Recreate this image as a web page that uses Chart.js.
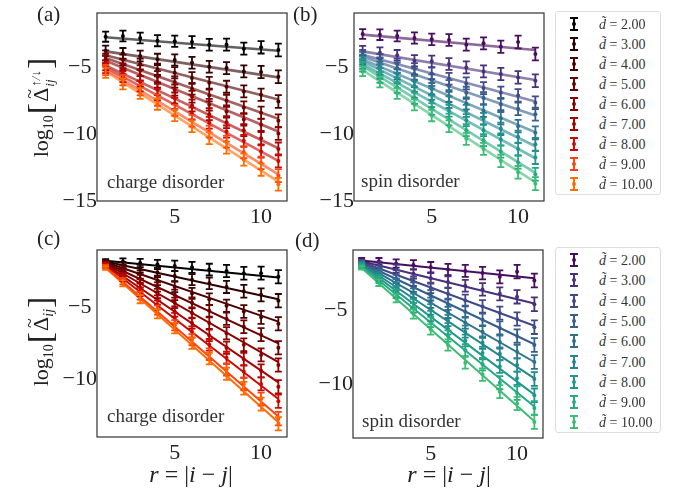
<!DOCTYPE html>
<html>
<head>
<meta charset="utf-8">
<script src="https://cdn.jsdelivr.net/npm/chart.js@4.4.1/dist/chart.umd.min.js"></script>
<style>
  body { margin: 0; background: #fff; width: 681px; height: 491px; position: relative; overflow: hidden;
         font-family: "Liberation Serif", "DejaVu Serif", serif; color: #222; }
  canvas { position: absolute; }
  .txt { position: absolute; white-space: nowrap; line-height: 1; }
  .tag { font-size: 21px; }
  .note { font-size: 19px; color: #333; }
  .xlab { font-size: 24px; transform: translateX(-50%); }
  .ylab { font-size: 22px; transform: translate(-50%, -50%) rotate(-90deg); }
  .ylab sub { font-size: 14px; vertical-align: -5px; }
  .ylab .br { font-size: 34px; font-weight: 300; vertical-align: -3px; margin: 0 1px; }
  .acc { position: relative; display: inline-block; }
  .acc b { position: absolute; left: 3px; top: -9px; font-weight: normal; font-size: 18px; }
  .ss { display: inline-block; vertical-align: -6px; font-size: 13px; line-height: 1.05; font-style: italic; margin-left: 1px; }
  .ss span { display: block; }
  .legend { position: absolute; border: 1px solid #ddd; border-radius: 3px; background: #fff; }
  .row { position: absolute; left: 0; height: 20px; width: 100%; font-size: 14px; color: #333; }
  .row span.t { position: absolute; left: 43px; top: 3px; }
  .eb { position: absolute; left: 14px; top: 3px; width: 8px; height: 14px; }
  .eb i { position: absolute; background: currentColor; }
</style>
</head>
<body>
<canvas id="pa"></canvas>
<canvas id="pb"></canvas>
<canvas id="pc"></canvas>
<canvas id="pd"></canvas>

<div class="txt tag" style="left:37px;top:4px">(a)</div>
<div class="txt tag" style="left:293px;top:4px">(b)</div>
<div class="txt tag" style="left:37px;top:228px">(c)</div>
<div class="txt tag" style="left:295px;top:230px">(d)</div>

<div class="txt note" style="left:107px;top:172px">charge disorder</div>
<div class="txt note" style="left:361px;top:171px">spin disorder</div>
<div class="txt note" style="left:107px;top:406px">charge disorder</div>
<div class="txt note" style="left:362px;top:411px">spin disorder</div>

<div class="txt ylab" style="left:40px;top:107px">log<sub>10</sub><span class="br">[</span><span class="acc">Δ<b>~</b></span><span class="ss"><span>↑/↓</span><span>ij</span></span><span class="br">]</span></div>
<div class="txt ylab" style="left:40px;top:341px">log<sub>10</sub><span class="br">[</span><span class="acc">Δ<b>~</b></span><sub><i>ij</i></sub><span class="br">]</span></div>

<div class="txt xlab" style="left:191px;top:462px"><i>r</i> = |<i>i</i> − <i>j</i>|</div>
<div class="txt xlab" style="left:449px;top:462px"><i>r</i> = |<i>i</i> − <i>j</i>|</div>

<div class="legend" id="legTop" style="left:555px;top:11px;width:104px;height:182px"></div>
<div class="legend" id="legBot" style="left:555px;top:247px;width:104px;height:184px"></div>

<script>
// distances and disorder strengths
const r = [1, 2, 3, 4, 5, 6, 7, 8, 9, 10, 11];
const dTilde = ["2.00", "3.00", "4.00", "5.00", "6.00", "7.00", "8.00", "9.00", "10.00"];
const xTicks = [5, 10];
const yTicksTop = [-5, -10, -15];
const yTicksBot = [-5, -10];

const heatColors = ["#000000", "#2e0000", "#4d0000", "#6b0000", "#8a0000", "#a80000", "#cc0a00", "#ff4410", "#ff6c00"];
const viridisColors = ["#470d5e", "#48307c", "#404a8a", "#365f8d", "#2c718e", "#24868e", "#1f978b", "#26aa81", "#3dbc74"];

// (a) charge disorder, spin-resolved pairing
const chargeSpinVals = [
  [-2.70, -2.65, -2.80, -3.00, -3.05, -3.10, -3.30, -3.30, -3.60, -3.50, -3.70],
  [-3.75, -3.95, -4.15, -4.40, -4.45, -4.65, -4.95, -5.05, -5.30, -5.35, -5.70],
  [-4.10, -4.45, -4.75, -5.15, -5.40, -5.80, -6.15, -6.45, -6.80, -7.05, -7.55],
  [-4.35, -4.80, -5.25, -5.70, -6.10, -6.60, -7.10, -7.50, -8.00, -8.40, -9.00],
  [-4.50, -5.10, -5.60, -6.10, -6.70, -7.20, -7.80, -8.30, -8.90, -9.30, -9.95],
  [-4.85, -5.45, -6.05, -6.65, -7.30, -7.85, -8.50, -9.10, -9.70, -10.30, -11.10],
  [-5.05, -5.70, -6.40, -7.05, -7.70, -8.45, -9.15, -9.80, -10.50, -11.30, -12.00],
  [-5.20, -5.95, -6.70, -7.45, -8.20, -9.00, -9.80, -10.55, -11.35, -12.15, -13.10],
  [-5.40, -6.25, -6.95, -7.75, -8.60, -9.40, -10.30, -11.00, -11.90, -12.65, -13.75]
];
const chargeSpinFit = [[-2.75, -3.75], [-3.80, -5.75], [-4.10, -7.40], [-4.30, -8.85], [-4.50, -9.80],
                       [-4.85, -11.05], [-5.00, -12.00], [-5.15, -13.00], [-5.30, -13.55]];
const chargeSpinErr = [0.38, 0.40, 0.40, 0.42, 0.42, 0.44, 0.44, 0.45, 0.45, 0.46, 0.48];

// (b) spin disorder, spin-resolved pairing
const spinSpinVals = [
  [-2.50, -2.55, -2.65, -2.80, -2.90, -2.95, -3.30, -3.20, -3.45, -3.10, -4.00],
  [-3.75, -3.90, -4.10, -4.50, -4.55, -4.75, -5.00, -5.30, -5.50, -5.75, -6.00],
  [-4.05, -4.40, -4.75, -5.10, -5.45, -5.85, -6.20, -6.55, -6.90, -7.10, -7.65],
  [-4.20, -4.65, -5.05, -5.50, -5.95, -6.40, -6.90, -7.30, -7.75, -8.10, -8.50],
  [-4.40, -4.95, -5.50, -6.05, -6.60, -7.15, -7.70, -8.25, -8.80, -9.40, -9.90],
  [-4.55, -5.15, -5.80, -6.40, -7.00, -7.60, -8.25, -8.85, -9.60, -10.20, -10.75],
  [-4.75, -5.45, -6.15, -6.85, -7.55, -8.25, -8.95, -9.70, -10.40, -11.10, -11.75],
  [-4.95, -5.75, -6.50, -7.30, -8.10, -8.90, -9.70, -10.45, -11.30, -12.10, -13.00],
  [-5.30, -6.10, -6.95, -7.80, -8.60, -9.40, -10.35, -11.10, -12.00, -12.85, -13.70]
];
const spinSpinFit = [[-2.55, -3.70], [-3.80, -5.95], [-4.05, -7.55], [-4.20, -8.60], [-4.40, -9.85],
                     [-4.55, -10.90], [-4.75, -11.80], [-4.90, -12.90], [-5.20, -13.60]];
const spinSpinErr = [0.36, 0.40, 0.40, 0.42, 0.43, 0.44, 0.45, 0.45, 0.46, 0.47, 0.48];

// (c) charge disorder, total pairing
const chargeTotVals = [
  [-1.80, -1.85, -1.95, -2.05, -2.15, -2.25, -2.40, -2.50, -2.65, -2.65, -2.90],
  [-1.85, -2.10, -2.35, -2.60, -2.85, -3.10, -3.35, -3.60, -3.90, -4.15, -4.55],
  [-1.90, -2.30, -2.75, -3.15, -3.60, -4.05, -4.45, -4.90, -5.30, -5.70, -6.15],
  [-1.95, -2.50, -3.05, -3.60, -4.15, -4.70, -5.25, -5.80, -6.35, -6.90, -7.80],
  [-2.00, -2.65, -3.35, -4.05, -4.70, -5.40, -6.10, -6.80, -7.60, -8.30, -9.00],
  [-2.05, -2.85, -3.65, -4.50, -5.30, -6.10, -6.95, -7.80, -8.60, -9.40, -10.50],
  [-2.10, -3.00, -3.95, -4.85, -5.75, -6.70, -7.60, -8.50, -9.45, -10.30, -11.50],
  [-2.20, -3.20, -4.20, -5.20, -6.25, -7.25, -8.25, -9.30, -10.30, -11.35, -12.70],
  [-2.30, -3.35, -4.45, -5.45, -6.45, -7.50, -8.55, -9.60, -10.60, -11.70, -13.05]
];
const chargeTotFit = [[-1.80, -2.95], [-1.85, -4.45], [-1.90, -6.00], [-1.95, -7.50], [-2.00, -8.80],
                      [-2.05, -10.20], [-2.10, -11.35], [-2.20, -12.55], [-2.30, -12.95]];
const chargeTotErr = [0.12, 0.22, 0.28, 0.32, 0.36, 0.38, 0.40, 0.42, 0.44, 0.45, 0.46];

// (d) spin disorder, total pairing
const spinTotVals = [
  [-1.60, -1.70, -1.85, -1.95, -2.10, -2.25, -2.35, -2.50, -2.75, -2.40, -3.00],
  [-1.70, -1.95, -2.20, -2.55, -2.85, -3.10, -3.35, -3.60, -3.90, -4.10, -4.60],
  [-1.75, -2.20, -2.60, -3.05, -3.50, -3.90, -4.35, -4.75, -5.20, -5.60, -6.15],
  [-1.80, -2.35, -2.90, -3.45, -4.00, -4.60, -5.10, -5.65, -6.20, -6.75, -7.35],
  [-1.85, -2.50, -3.15, -3.85, -4.50, -5.15, -5.85, -6.45, -7.15, -7.80, -8.50],
  [-1.90, -2.65, -3.40, -4.20, -4.95, -5.70, -6.45, -7.20, -7.95, -8.70, -9.65],
  [-1.95, -2.80, -3.65, -4.55, -5.40, -6.25, -7.05, -7.90, -8.80, -9.60, -10.75],
  [-2.05, -2.95, -3.90, -4.85, -5.80, -6.75, -7.70, -8.65, -9.90, -10.60, -11.60],
  [-2.15, -3.15, -4.20, -5.25, -6.30, -7.35, -8.55, -9.35, -10.50, -11.30, -12.55]
];
const spinTotFit = [[-1.65, -2.85], [-1.70, -4.55], [-1.75, -6.05], [-1.80, -7.30], [-1.85, -8.50],
                    [-1.90, -9.60], [-1.95, -10.70], [-2.05, -11.50], [-2.15, -12.50]];
const spinTotErr = [0.12, 0.22, 0.28, 0.32, 0.35, 0.38, 0.40, 0.42, 0.44, 0.45, 0.46];

const rgba = function (hex, a) {
  const n = parseInt(hex.slice(1), 16);
  return `rgba(${(n >> 16) & 255},${(n >> 8) & 255},${n & 255},${a})`;
};

// vertical error bars with caps, drawn through the chart scales
const errorBars = {
  id: "errorBars",
  afterDatasetsDraw(chart) {
    const { ctx, scales } = chart;
    ctx.save();
    chart.data.datasets.forEach((ds) => {
      if (!ds.err) return;
      ctx.strokeStyle = ds.backgroundColor;
      ctx.lineWidth = 1.8;
      ds.data.forEach((p, j) => {
        const x = scales.x.getPixelForValue(p.x);
        const y1 = scales.y.getPixelForValue(p.y + ds.err[j]);
        const y2 = scales.y.getPixelForValue(p.y - ds.err[j]);
        ctx.beginPath();
        ctx.moveTo(x, y1); ctx.lineTo(x, y2);
        ctx.moveTo(x - 3.5, y1); ctx.lineTo(x + 3.5, y1);
        ctx.moveTo(x - 3.5, y2); ctx.lineTo(x + 3.5, y2);
        ctx.stroke();
      });
    });
    ctx.restore();
  }
};

const frame = {
  id: "frame",
  afterDraw(chart) {
    const { ctx, chartArea: a } = chart;
    ctx.save();
    ctx.strokeStyle = "#333";
    ctx.lineWidth = 1.2;
    ctx.strokeRect(a.left, a.top, a.right - a.left, a.bottom - a.top);
    ctx.restore();
  }
};

const YW = 62, XH = 30;

const makePanel = function (id, box, vals, fits, err, colors, yMin, yMax, yTicks, faded) {
  const canvas = document.getElementById(id);
  const w = box.w + YW + 4, h = box.h + XH + 2;
  canvas.style.left = (box.left - YW) + "px";
  canvas.style.top = (box.top - 2) + "px";
  canvas.style.width = w + "px";
  canvas.style.height = h + "px";
  canvas.width = w; canvas.height = h;

  const datasets = [];
  vals.forEach((row, k) => {
    datasets.push({
      data: [{ x: r[0], y: fits[k][0] }, { x: r[r.length - 1], y: fits[k][1] }],
      showLine: true,
      borderColor: faded ? rgba(colors[k], 0.62) : colors[k],
      borderWidth: faded ? 2.6 : 2,
      pointRadius: 0
    });
    datasets.push({
      data: r.map((x, j) => ({ x: x, y: row[j] })),
      err: err,
      backgroundColor: colors[k],
      borderColor: colors[k],
      pointRadius: 2,
      borderWidth: 0
    });
  });

  const tickFont = { family: "Liberation Serif", size: 22, lineHeight: 1 };
  new Chart(canvas, {
    type: "scatter",
    data: { datasets },
    options: {
      responsive: false,
      animation: false,
      events: [],
      layout: { padding: { top: 2, right: 4, left: 0, bottom: 0 } },
      plugins: { legend: { display: false }, tooltip: { enabled: false } },
      scales: {
        x: {
          type: "linear", min: 0.5, max: 11.5,
          afterBuildTicks: (s) => { s.ticks = xTicks.map((v) => ({ value: v })); },
          afterFit: (s) => { s.height = XH; },
          grid: { display: false, drawTicks: false }, border: { display: false },
          ticks: { color: "#222", font: tickFont, padding: 5, maxRotation: 0,
                   callback: (v) => String(v) }
        },
        y: {
          type: "linear", min: yMin, max: yMax,
          afterBuildTicks: (s) => { s.ticks = yTicks.map((v) => ({ value: v })); },
          afterFit: (s) => { s.width = YW; },
          grid: { display: false, drawTicks: false }, border: { display: false },
          ticks: { color: "#222", font: tickFont, padding: 0, crossAlign: "center",
                   callback: (v) => String(v).replace("-", "\u2212") }
        }
      }
    },
    plugins: [errorBars, frame]
  });
};

makePanel("pa", { left: 97, top: 4, w: 190, h: 197 }, chargeSpinVals, chargeSpinFit, chargeSpinErr, heatColors, -15, -0.93, yTicksTop, true);
makePanel("pb", { left: 354, top: 4, w: 190, h: 197 }, spinSpinVals, spinSpinFit, spinSpinErr, viridisColors, -15, -0.93, yTicksTop, true);
makePanel("pc", { left: 97, top: 241, w: 190, h: 196 }, chargeTotVals, chargeTotFit, chargeTotErr, heatColors, -13.97, -1.05, yTicksBot, false);
makePanel("pd", { left: 353, top: 241, w: 190, h: 197 }, spinTotVals, spinTotFit, spinTotErr, viridisColors, -13.63, -0.94, yTicksBot, false);

// legends with error-bar glyphs
const buildLegend = function (el, colors, step) {
  dTilde.forEach((d, k) => {
    const row = document.createElement("div");
    row.className = "row";
    row.style.top = (2 + k * step) + "px";
    row.innerHTML =
      `<span class="eb" style="color:${colors[k]}">` +
      `<i style="left:3px;top:0;width:2px;height:14px"></i>` +
      `<i style="left:0;top:0;width:8px;height:2px"></i>` +
      `<i style="left:0;bottom:0;width:8px;height:2px"></i>` +
      `<i style="left:2px;top:5px;width:4px;height:4px;border-radius:2px"></i></span>` +
      `<span class="t"><i>d̃</i> = ${d}</span>`;
    el.appendChild(row);
  });
};
buildLegend(document.getElementById("legTop"), heatColors, 20);
buildLegend(document.getElementById("legBot"), viridisColors, 20.3);
</script>
</body>
</html>
